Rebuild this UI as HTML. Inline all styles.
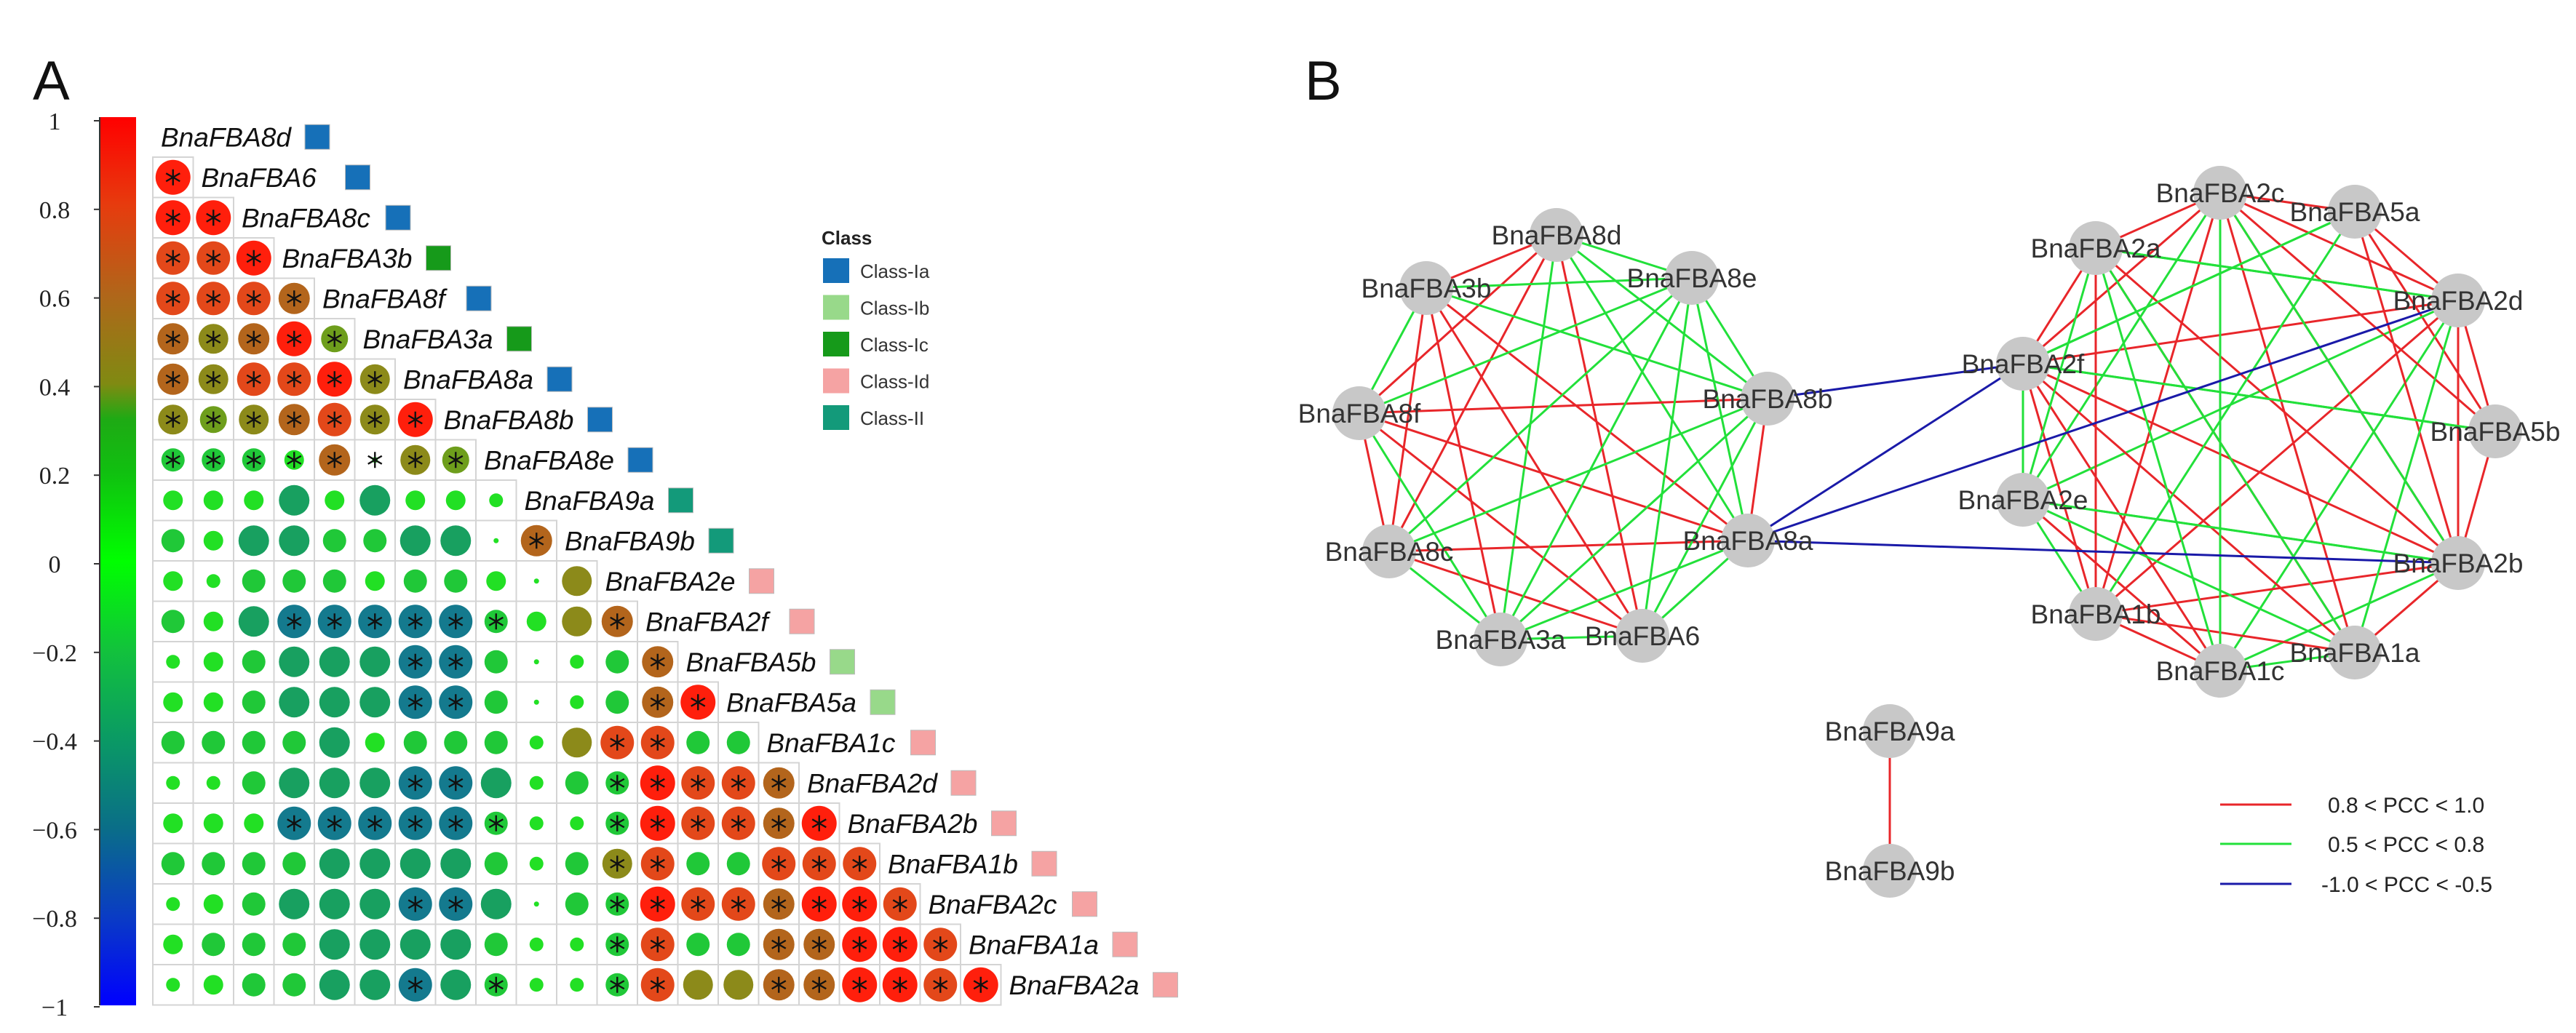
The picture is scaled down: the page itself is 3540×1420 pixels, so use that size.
<!DOCTYPE html>
<html><head><meta charset="utf-8"><style>
html,body{margin:0;padding:0;background:#fff;}
svg{display:block;}
</style></head><body>
<svg id="s" xmlns="http://www.w3.org/2000/svg" width="3540" height="1420" viewBox="0 0 3540 1420">
<defs>
<linearGradient id="cb" x1="0" y1="0" x2="0" y2="1">
<stop offset="0" stop-color="#ff0000"/>
<stop offset="0.1" stop-color="#e63c0e"/>
<stop offset="0.2" stop-color="#b0661a"/>
<stop offset="0.3" stop-color="#808a12"/>
<stop offset="0.34" stop-color="#1eaa14"/>
<stop offset="0.4" stop-color="#10c010"/>
<stop offset="0.5" stop-color="#00ff00"/>
<stop offset="0.6" stop-color="#12c23c"/>
<stop offset="0.7" stop-color="#0a9a64"/>
<stop offset="0.8" stop-color="#0a6e88"/>
<stop offset="0.9" stop-color="#0a3cc4"/>
<stop offset="1" stop-color="#0000ff"/>
</linearGradient>
</defs>
<text x="45" y="137" font-family="Liberation Sans, sans-serif" font-size="76" fill="#111">A</text>
<text x="1793" y="137" font-family="Liberation Sans, sans-serif" font-size="76" fill="#111">B</text>
<rect x="138" y="161" width="49" height="1221" fill="url(#cb)"/>
<line x1="137" y1="161" x2="137" y2="1382" stroke="#333" stroke-width="2"/>
<g id="cbt" font-family="Liberation Serif, serif" font-size="34" fill="#222" text-anchor="middle"></g>
<g id="mat"></g>
<g id="leg" font-family="Liberation Sans, sans-serif">
<text x="1129" y="336" font-size="26" font-weight="bold" fill="#222">Class</text>
</g>
<g id="edges" stroke-width="3" fill="none"></g>
<g id="nodes" font-family="Liberation Sans, sans-serif" font-size="37" fill="#333" text-anchor="middle"></g>
<g font-family="Liberation Sans, sans-serif" font-size="30" fill="#222">
<line x1="3051" y1="1106" x2="3149" y2="1106" stroke="#e8262a" stroke-width="3"/>
<line x1="3051" y1="1160" x2="3149" y2="1160" stroke="#22e03a" stroke-width="3"/>
<line x1="3051" y1="1215" x2="3149" y2="1215" stroke="#1a1aa8" stroke-width="3"/>
<text x="3199" y="1117">0.8 &lt; PCC &lt; 1.0</text>
<text x="3199" y="1171">0.5 &lt; PCC &lt; 0.8</text>
<text x="3190" y="1226">-1.0 &lt; PCC &lt; -0.5</text>
</g>
</svg>
<script>
const NS="http://www.w3.org/2000/svg";
function el(t,a,p,txt){const e=document.createElementNS(NS,t);for(const k in a)e.setAttribute(k,a[k]);if(txt!==undefined)e.textContent=txt;p.appendChild(e);return e;}
// colorbar ticks
const cbt=document.getElementById('cbt');
const tl=["1","0.8","0.6","0.4","0.2","0","\u22120.2","\u22120.4","\u22120.6","\u22120.8","\u22121"];
for(let i=0;i<11;i++){const y=166+i*121.8;el('text',{x:75,y:y+12},cbt,tl[i]);el('line',{x1:129,y1:y,x2:137,y2:y,stroke:'#333','stroke-width':2},cbt);}
// matrix
const names=["BnaFBA8d","BnaFBA6","BnaFBA8c","BnaFBA3b","BnaFBA8f","BnaFBA3a","BnaFBA8a","BnaFBA8b","BnaFBA8e","BnaFBA9a","BnaFBA9b","BnaFBA2e","BnaFBA2f","BnaFBA5b","BnaFBA5a","BnaFBA1c","BnaFBA2d","BnaFBA2b","BnaFBA1b","BnaFBA2c","BnaFBA1a","BnaFBA2a"];
const cls=["a","a","a","c","a","c","a","a","a","e","e","d","d","b","b","d","d","d","d","d","d","d"];
const ccol={a:"#1670b8",b:"#98d98a",c:"#169a1a",d:"#f5a3a3",e:"#139a7a"};
const rows=[
"R*",
"R* R*",
"O* O* R*",
"O* O* O* B*",
"B* L* B* R* Y*",
"B* L* O* O* R* L*",
"L* Y* L* B* O* L* R*",
"G* G* G* g* B* x* L* Y*",
"g g g T g T g g s",
"G g T T G G T T . B*",
"g s G G G g G G g . L",
"G g T D* D* D* D* D* G* g L B*",
"s g G T T T D* D* G . s G B*",
"g g G T T T D* D* G . s G B* R*",
"G G G G T g G G G s L O* O* G G",
"s s G T T T D* D* T s G G* R* O* O* B*",
"g g g D* D* D* D* D* G* s s G* R* O* O* B* R*",
"G G G G T T T T G s G L* O* G G O* O* O*",
"s g G T T T D* D* T . G G* R* O* O* B* R* R* O*",
"g G G G T T T T G s s G* O* G G B* B* R* R* O*",
"s g G G T T D* T G* s s G* O* L L B* B* R* R* O* R*"];
const ty={R:["#ff1f0c",48],O:["#e3481a",46],B:["#b3651c",43],L:["#8c8a1a",41],Y:["#6e9e1c",37],G:["#20c838",32],g:["#22e024",27],s:["#22e024",19],x:["#22e024",8],T:["#18a060",42],D:["#147a8e",46],".":["#22e024",7]};
const mat=document.getElementById('mat');
const c=55.5,x0=210,y0=216;
const M={};
for(let r=1;r<=21;r++){const t=rows[r-1].split(" ");for(let j=0;j<r;j++){M[r+","+j]=t[j];
 const x=x0+j*c,y=y0+(r-1)*c;el('rect',{x:x,y:y,width:c,height:c,fill:'#fff',stroke:'#d4d4d4','stroke-width':2},mat);
 const k=t[j][0],st=t[j].length>1;const [col,d]=ty[k];const cx=x+c/2,cy=y+c/2;
 el('circle',{cx:cx,cy:cy,r:d/2,fill:col},mat);
 if(st){const L=11;for(const a of [90,30,150]){const rd=a*Math.PI/180;el('line',{x1:cx-L*Math.cos(rd),y1:cy-L*Math.sin(rd),x2:cx+L*Math.cos(rd),y2:cy+L*Math.sin(rd),stroke:'#111','stroke-width':2.4},mat);}}
}}
for(let r=0;r<=21;r++){const cy=y0+(r-1)*c+c/2;
 el('text',{x:221+r*c,y:cy+13,'font-family':'Liberation Sans, sans-serif','font-size':37,'font-style':'italic',fill:'#111'},mat,names[r]);
 el('rect',{x:419+r*c,y:cy-17,width:34,height:34,fill:ccol[cls[r]],stroke:'#bbb','stroke-width':1},mat);}
// class legend
const leg=document.getElementById('leg');
[["Class-Ia","a"],["Class-Ib","b"],["Class-Ic","c"],["Class-Id","d"],["Class-II","e"]].forEach((p,i)=>{const y=355+i*50.5;
 el('rect',{x:1131,y:y,width:36,height:34,fill:ccol[p[1]]},leg);
 el('text',{x:1182,y:y+27,'font-size':26,fill:'#333'},leg,p[0]);});
// network
const P={"BnaFBA8d":[2139,323],"BnaFBA3b":[1960,396],"BnaFBA8e":[2325,382],"BnaFBA8b":[2429,548],"BnaFBA8f":[1868,568],"BnaFBA8c":[1909,758],"BnaFBA3a":[2062,879],"BnaFBA6":[2257,874],"BnaFBA8a":[2402,743],
"BnaFBA2c":[3051,265],"BnaFBA5a":[3236,291],"BnaFBA2a":[2880,341],"BnaFBA2d":[3378,413],"BnaFBA2f":[2780,500],"BnaFBA5b":[3429,593],"BnaFBA2e":[2780,687],"BnaFBA2b":[3378,774],"BnaFBA1b":[2880,844],"BnaFBA1a":[3236,897],"BnaFBA1c":[3051,922],
"BnaFBA9a":[2597,1005],"BnaFBA9b":[2597,1197]};
const E=document.getElementById('edges');
function edge(a,b,col){const p=P[a],q=P[b];el('line',{x1:p[0],y1:p[1],x2:q[0],y2:q[1],stroke:col},E);}
const c1=[0,1,2,3,4,5,6,7,8],c2=[11,12,13,14,15,16,17,18,19,20,21];
function addC(cl){for(let a=0;a<cl.length;a++)for(let b=0;b<a;b++){const r=cl[a],j=cl[b];const v=M[r+","+j];if(!v)continue;const k=v[0];
 if(k==='R'||k==='O')edge(names[r],names[j],'#e8262a');else if(v.length>1&&(k==='B'||k==='L'||k==='Y'||k==='G'||k==='g'||k==='x'))edge(names[r],names[j],'#22e03a');}}
addC(c1);addC(c2);
// extra greens seen in network
[["BnaFBA2f","BnaFBA5a"],["BnaFBA2a","BnaFBA2d"],["BnaFBA2f","BnaFBA5b"],["BnaFBA2e","BnaFBA2b"],["BnaFBA2c","BnaFBA1c"],["BnaFBA5a","BnaFBA1b"],["BnaFBA2c","BnaFBA2b"],["BnaFBA2a","BnaFBA1a"]].forEach(e=>edge(e[0],e[1],'#22e03a'));
edge("BnaFBA9a","BnaFBA9b",'#e8262a');
[["BnaFBA8b","BnaFBA2f"],["BnaFBA8a","BnaFBA2f"],["BnaFBA8a","BnaFBA2d"],["BnaFBA8a","BnaFBA2b"]].forEach(e=>edge(e[0],e[1],'#1a1aa8'));
const N=document.getElementById('nodes');
for(const k in P){el('circle',{cx:P[k][0],cy:P[k][1],r:37,fill:'#c8c8c8'},N);}
for(const k in P){el('text',{x:P[k][0],y:P[k][1]+13},N,k);}
</script>
</body></html>
